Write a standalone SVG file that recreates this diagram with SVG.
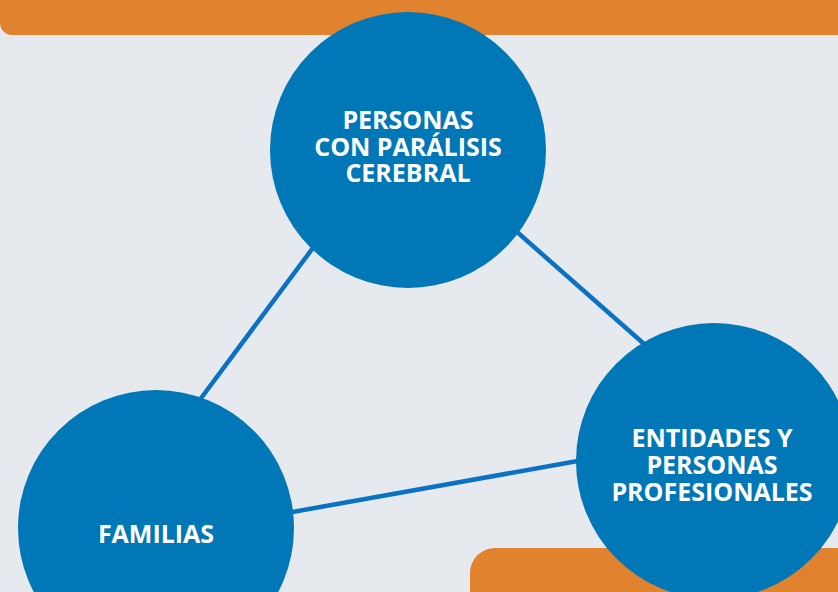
<svg xmlns="http://www.w3.org/2000/svg" width="838" height="592" viewBox="0 0 838 592">
<style>
.bar{fill:#e0822e}
.node{fill:#0077b6}
.link{stroke:#0a72c4;stroke-width:4.5;stroke-linecap:butt;fill:none}
.lbl{fill:#ffffff;font-family:"Open Sans","Noto Sans","DejaVu Sans",sans-serif;font-weight:700;font-size:25px;text-anchor:middle}
</style>
<rect x="0" y="0" width="838" height="592" fill="#e6e9ee"/>
<path class="bar" d="M0,0 H838 V35 H12 A12,12 0 0 1 0,23 Z"/>
<path class="bar" d="M470,592 V573 A25,25 0 0 1 495,548 H838 V592 Z"/>
<g id="connectors">
<line class="link" x1="330" y1="225" x2="190" y2="413"/>
<line class="link" x1="500" y1="217" x2="660" y2="358"/>
<line class="link" x1="270" y1="516" x2="600" y2="457"/>
</g>
<g id="node-personas">
<circle class="node" cx="408" cy="150" r="138"/>
<text class="lbl" x="408" y="129">PERSONAS</text>
<text class="lbl" x="408" y="156">CON PARÁLISIS</text>
<text class="lbl" x="408" y="182">CEREBRAL</text>
</g>
<g id="node-familias">
<circle class="node" cx="156" cy="528" r="138"/>
<text class="lbl" x="156" y="543">FAMILIAS</text>
</g>
<g id="node-entidades">
<circle class="node" cx="714" cy="461" r="138"/>
<text class="lbl" x="712" y="447">ENTIDADES Y</text>
<text class="lbl" x="712" y="474">PERSONAS</text>
<text class="lbl" x="712" y="501">PROFESIONALES</text>
</g>
</svg>
